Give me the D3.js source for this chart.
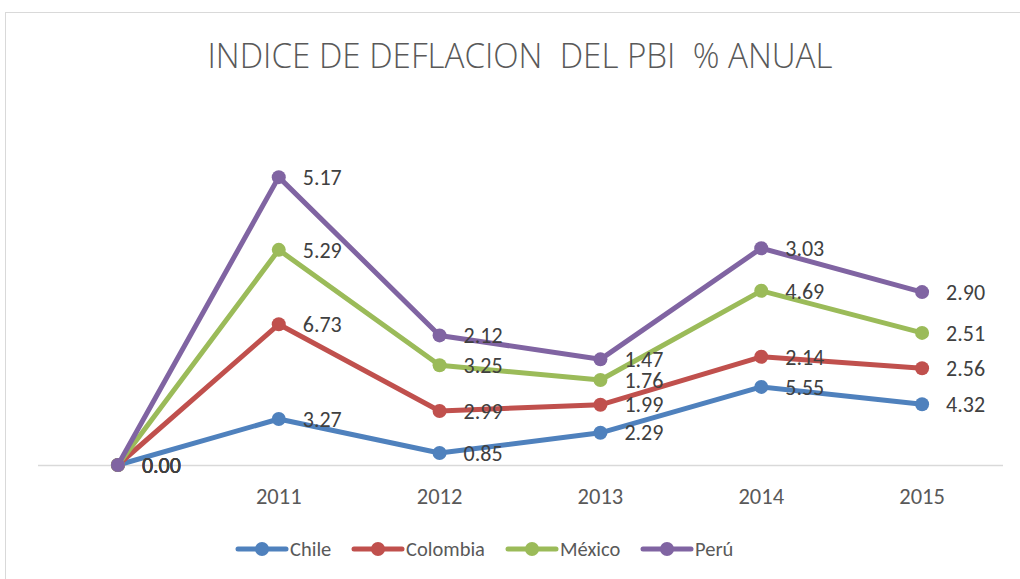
<!DOCTYPE html>
<html>
<head>
<meta charset="utf-8">
<script src="https://cdn.jsdelivr.net/npm/d3@7"></script>
<style>
  body { margin: 0; background: #fff; }
  svg { font-family: Calibri, Carlito, "Liberation Sans Narrow", "Open Sans", sans-serif; }
</style>
</head>
<body>
<div id="chart-area"></div>
<script>
// categories (first one has no label in the original)
const years = ["", "2011", "2012", "2013", "2014", "2015"];
const chile    = [0, 3.27, 0.85, 2.29, 5.55, 4.32];
const colombia = [0, 6.73, 2.99, 1.99, 2.14, 2.56];
const mexico   = [0, 5.29, 3.25, 1.76, 4.69, 2.51];
const peru     = [0, 5.17, 2.12, 1.47, 3.03, 2.90];
const seriesNames = ["Chile", "Colombia", "México", "Perú"];
const colors = ["#4f81bd", "#c0504d", "#9bbb59", "#8064a2"];

const width = 1020, height = 579;

let svg = d3.select("#chart-area")
        .append("svg")
        .attr("width", width)
        .attr("height", height);

// chart border
svg.append("rect")
    .attr("x", 5.5).attr("y", 12.5)
    .attr("width", 1030).attr("height", 600)
    .attr("fill", "none")
    .attr("stroke", "#d9d9d9");

svg.append("text")
    .attr("x", 520).attr("y", 68)
    .attr("text-anchor", "middle")
    .attr("font-size", 35)
    .attr("font-weight", 300)
    .style("font-family", "'Open Sans', Carlito, sans-serif")
    .style("white-space", "pre")
    .attr("fill", "#595959")
    .attr("textLength", 625)
    .attr("lengthAdjust", "spacingAndGlyphs")
    .text("INDICE DE DEFLACION  DEL PBI  % ANUAL");

let x = d3.scaleBand()
    .domain(d3.range(years.length))
    .range([37.5, 1002.5]);

let y = d3.scaleLinear()
    .domain([0, 25])
    .range([465, 465 - 25 * 14.07]);

// stacked line chart, like excel
let raw = [chile, colombia, mexico, peru];
let stacked = [];
let cum = years.map(() => 0);
raw.forEach((vals, s) => {
    cum = cum.map((c, i) => c + vals[i]);
    stacked.push({
        name: seriesNames[s],
        color: colors[s],
        points: vals.map((v, i) => ({ i: i, value: v, top: cum[i] }))
    });
});

// x axis
let xAxis = d3.axisBottom(x)
    .tickFormat(i => years[i])
    .tickSize(0)
    .tickPadding(23);

let gx = svg.append("g")
    .attr("transform", "translate(0,465)")
    .call(xAxis);
gx.select(".domain").attr("stroke", "#d9d9d9").attr("stroke-width", 1.5);
gx.selectAll("text")
    .attr("font-size", 22.5)
    .attr("fill", "#595959")
    .style("font-family", "Calibri, Carlito, 'Liberation Sans Narrow', sans-serif");

let line = d3.line()
    .x(d => x(d.i) + x.bandwidth() / 2)
    .y(d => y(d.top));

let series = svg.selectAll("g.series")
    .data(stacked)
    .enter()
    .append("g")
    .attr("class", "series");

series.append("path")
    .attr("d", d => line(d.points))
    .attr("fill", "none")
    .attr("stroke", d => d.color)
    .attr("stroke-width", 5)
    .attr("stroke-linejoin", "round");

series.selectAll("circle")
    .data(d => d.points.map(p => Object.assign({ color: d.color }, p)))
    .enter()
    .append("circle")
    .attr("cx", d => x(d.i) + x.bandwidth() / 2)
    .attr("cy", d => y(d.top))
    .attr("r", 7)
    .attr("fill", d => d.color);

// data labels
series.selectAll("text.lbl")
    .data(d => d.points)
    .enter()
    .append("text")
    .attr("class", "lbl")
    .attr("x", d => x(d.i) + x.bandwidth() / 2 + 24)
    .attr("y", d => y(d.top))
    .attr("dy", "0.35em")
    .attr("font-size", 22)
    .attr("fill", "#404040")
    .text(d => d.value.toFixed(2));

// legend
let legend = svg.append("g").attr("transform", "translate(0,549)");
let legX = [238, 354, 508, 643];
seriesNames.forEach((name, s) => {
    let g = legend.append("g").attr("transform", "translate(" + legX[s] + ",0)");
    g.append("line")
        .attr("x1", 0).attr("x2", 48)
        .attr("stroke", colors[s]).attr("stroke-width", 5)
        .attr("stroke-linecap", "round");
    g.append("circle").attr("cx", 24).attr("r", 7).attr("fill", colors[s]);
    g.append("text")
        .attr("x", 52).attr("dy", "0.35em")
        .attr("font-size", 20.5)
        .attr("fill", "#595959")
        .text(name);
});
</script>
</body>
</html>
